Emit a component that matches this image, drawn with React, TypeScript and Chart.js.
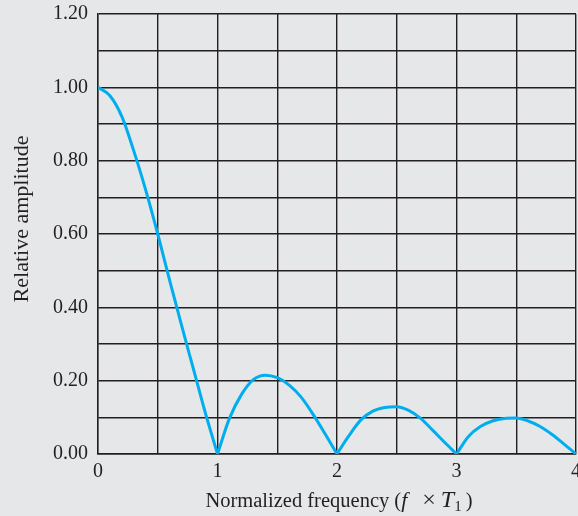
import React, { useEffect, useRef } from "react";
import { Chart, registerables } from "chart.js";

Chart.register(...registerables);

const frequency = [
  0, 0.1, 0.2, 0.3, 0.4, 0.5, 0.6, 0.7, 0.8, 0.9, 1.0,
  1.1, 1.2, 1.3, 1.4, 1.5, 1.6, 1.7, 1.8, 1.9, 2.0,
  2.1, 2.2, 2.3, 2.4, 2.5, 2.6, 2.7, 2.8, 2.9, 3.0,
  3.1, 3.2, 3.3, 3.4, 3.5, 3.6, 3.7, 3.8, 3.9, 4.0,
];
const amplitude = [
  1.0, 0.977, 0.92, 0.826, 0.719, 0.6, 0.473, 0.35, 0.23, 0.11, 0.0,
  0.097, 0.162, 0.203, 0.215, 0.208, 0.188, 0.155, 0.108, 0.055, 0.0,
  0.05, 0.093, 0.117, 0.127, 0.129, 0.119, 0.097, 0.065, 0.032, 0.0,
  0.048, 0.075, 0.09, 0.097, 0.098, 0.09, 0.075, 0.053, 0.027, 0.0,
];
const yTicks = [0, 0.1, 0.2, 0.3, 0.4, 0.5, 0.6, 0.7, 0.8, 0.9, 1.0, 1.1, 1.2];
const yTitle = "Relative amplitude";
const xTitleParts = [
  { text: "Normalized frequency (", italic: false, size: 20.5 },
  { text: "f", italic: true, size: 22 },
  { text: "   ", italic: false, size: 20 },
  { text: "\u00d7", italic: false, size: 24 },
  { text: " ", italic: false, size: 20 },
  { text: "T", italic: true, size: 24 },
  { text: "1", italic: false, size: 15, sub: true },
  { text: "\u2009)", italic: false, size: 20.5 },
];

const BG = "#e6e7e8";
const INK = "#231f20";
const LINE = "#00aeef";
const FONT = "'Liberation Serif', 'Times New Roman', serif";

function splitLobes() {
  const lobes: { x: number; y: number }[][] = [];
  let cur: { x: number; y: number }[] = [];
  frequency.forEach((f, i) => {
    const pt = { x: f, y: amplitude[i] };
    cur.push(pt);
    if (amplitude[i] === 0 && cur.length > 1) {
      lobes.push(cur);
      cur = [pt];
    }
  });
  if (cur.length > 1) lobes.push(cur);
  return lobes;
}

export default function App() {
  const ref = useRef<HTMLCanvasElement | null>(null);
  useEffect(() => {
    if (!ref.current) return;
    const bgPlugin = {
      id: "bg",
      beforeDraw(chart: any) {
        const ctx = chart.ctx;
        ctx.save();
        ctx.fillStyle = BG;
        ctx.fillRect(0, 0, chart.width, chart.height);
        ctx.restore();
      },
    };
    const titlesPlugin = {
      id: "titles",
      afterDraw(chart: any) {
        const ctx = chart.ctx;
        const area = chart.chartArea;
        ctx.save();
        ctx.fillStyle = INK;
        ctx.textBaseline = "alphabetic";
        const fontFor = (p: any) => `${p.italic ? "italic " : ""}${p.size}px ${FONT}`;
        let total = 0;
        for (const p of xTitleParts) {
          ctx.font = fontFor(p);
          total += ctx.measureText(p.text).width;
        }
        let x = (area.left + area.right) / 2 + 2 - total / 2;
        const baseY = 506.5;
        for (const p of xTitleParts as any[]) {
          ctx.font = fontFor(p);
          ctx.fillText(p.text, x, p.sub ? baseY + 4 : baseY);
          x += ctx.measureText(p.text).width;
        }
        ctx.restore();

        ctx.save();
        ctx.fillStyle = INK;
        ctx.font = `22px ${FONT}`;
        ctx.textAlign = "center";
        ctx.textBaseline = "alphabetic";
        ctx.translate(27.5, 219);
        ctx.rotate(-Math.PI / 2);
        ctx.fillText(yTitle, 0, 0);
        ctx.restore();
      },
    };
    const datasets = splitLobes().map((lobe) => ({
      data: lobe,
      borderColor: LINE,
      borderWidth: 3,
      pointRadius: 0,
      cubicInterpolationMode: "monotone",
      fill: false,
    }));
    const chart = new Chart(ref.current, {
      type: "line",
      data: { datasets },
      options: {
        responsive: false,
        animation: false,
        layout: { padding: { top: 14, right: 2, left: 0, bottom: 0 } },
        plugins: { legend: { display: false }, tooltip: { enabled: false } },
        scales: {
          x: {
            type: "linear",
            min: 0,
            max: 4,
            grid: { color: INK, lineWidth: 1.4, drawTicks: false },
            border: { color: INK, width: 1.4 },
            ticks: {
              stepSize: 0.5,
              padding: 6,
              color: INK,
              font: { family: FONT, size: 20 },
              maxRotation: 0,
              autoSkip: false,
              callback: (v: any) => (Number.isInteger(v) ? String(v) : ""),
            },
            afterFit(scale: any) {
              scale.height = 62;
              scale.paddingLeft = 0;
              scale.paddingRight = 0;
            },
          },
          y: {
            min: 0,
            max: 1.2,
            grid: { color: INK, lineWidth: 1.4, drawTicks: false },
            border: { color: INK, width: 1.4 },
            afterBuildTicks(scale: any) {
              scale.ticks = yTicks.map((v) => ({ value: v }));
            },
            ticks: {
              padding: 10,
              color: INK,
              autoSkip: false,
              font: { family: FONT, size: 20 },
              callback: (v: any) => {
                const n = Math.round(Number(v) * 10);
                return n % 2 === 0 ? (n / 10).toFixed(2) : "";
              },
            },
            afterFit(scale: any) {
              scale.width = 98;
              scale.paddingTop = 0;
              scale.paddingBottom = 0;
            },
          },
        },
      },
      plugins: [bgPlugin, titlesPlugin],
    } as any);
    return () => chart.destroy();
  }, []);
  return (
    <div style={{ position: "fixed", left: 0, top: 0, width: 578, height: 516, background: BG }}>
      <canvas ref={ref} width={578} height={516} style={{ display: "block" }} />
    </div>
  );
}
